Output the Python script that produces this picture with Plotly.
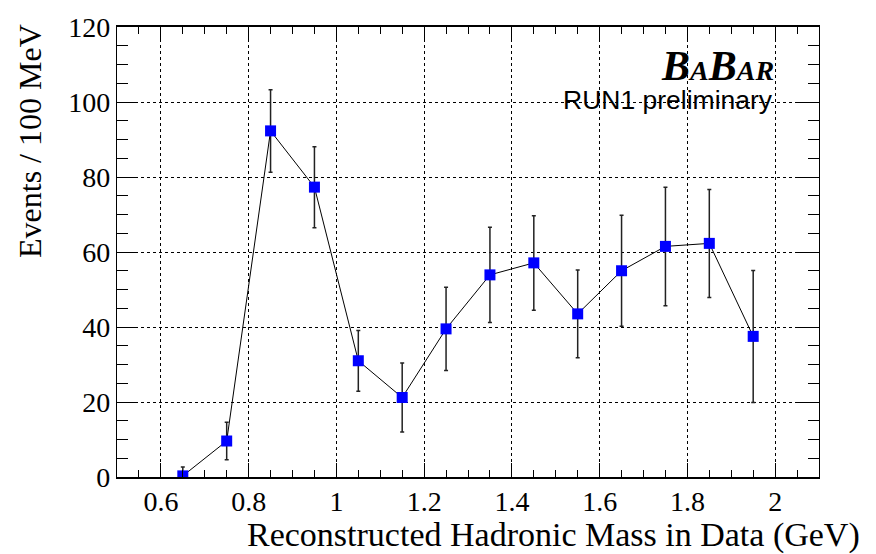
import plotly.graph_objects as go

# Reconstructed hadronic mass spectrum, 100 MeV bins
mass_gev = [0.65, 0.75, 0.85, 0.95, 1.05, 1.15, 1.25, 1.35, 1.45, 1.55, 1.65, 1.75, 1.85, 1.95]
events = [0.3, 9.6, 92.3, 77.3, 31.0, 21.2, 39.5, 53.9, 57.1, 43.5, 55.0, 61.5, 62.3, 37.5]
errors = [2.4, 5.0, 11.0, 10.8, 8.1, 9.2, 11.1, 12.7, 12.6, 11.7, 14.8, 15.8, 14.4, 17.6]

x_ticks = [0.6, 0.8, 1.0, 1.2, 1.4, 1.6, 1.8, 2.0]
x_tick_text = ["0.6", "0.8", "1", "1.2", "1.4", "1.6", "1.8", "2"]
y_ticks = [0, 20, 40, 60, 80, 100, 120]

W, H = 876, 554
L, R, T, B = 117, 819, 23, 477


def px(xp):
    return (xp - L) / (R - L)


def py(yp):
    return (B - yp) / (B - T)


SERIF = "Liberation Serif, Times New Roman, serif"
SANS = "Liberation Sans, Arial, sans-serif"

fig = go.Figure()
fig.add_trace(go.Scatter(
    x=mass_gev, y=events,
    mode="lines+markers",
    line=dict(color="black", width=1),
    marker=dict(symbol="square", size=11, color="#0000ff", line=dict(width=0)),
    error_y=dict(type="data", array=errors, visible=True,
                 color="#222222", thickness=1.5, width=2),
    showlegend=False,
    cliponaxis=True,
))

axis_common = dict(
    showline=True, linecolor="black", mirror="allticks",
    ticks="inside", tickcolor="black",
    showgrid=True, gridcolor="black", griddash="dot", gridwidth=1,
    zeroline=False,
    tickfont=dict(family=SERIF, size=28, color="black"),
)

fig.update_xaxes(
    range=[0.5, 2.1], tickvals=x_ticks, ticktext=x_tick_text,
    ticklen=14, tickwidth=1, linewidth=1.5, ticklabelstandoff=-1,
    minor=dict(dtick=0.05, tick0=0.5, ticks="inside", ticklen=7,
               tickcolor="black", tickwidth=1, showgrid=False),
    **axis_common,
)
fig.update_yaxes(
    range=[0, 120], tickvals=y_ticks,
    ticklen=21, tickwidth=1, linewidth=1.2,
    minor=dict(dtick=5, tick0=0, ticks="inside", ticklen=11,
               tickcolor="black", tickwidth=1, showgrid=False),
    **axis_common,
)

annotations = [
    dict(text="Reconstructed Hadronic Mass in Data (GeV)",
         x=px(862), y=py(536), xanchor="right", yanchor="middle",
         font=dict(family=SERIF, size=34, color="black")),
    dict(text="Events / 100 MeV", textangle=-90,
         x=px(30), y=py(138), xanchor="center", yanchor="middle",
         font=dict(family=SERIF, size=32, color="black")),
    dict(text="<b><i>B<span style='font-size:28px'>A</span>B"
              "<span style='font-size:28px'>AR</span></i></b>",
         x=px(776), y=py(62), xanchor="right", yanchor="middle",
         font=dict(family=SERIF, size=42, color="black")),
    dict(text="RUN1 preliminary",
         x=px(775), y=py(97), xanchor="right", yanchor="middle",
         font=dict(family=SANS, size=26.5, color="black")),
]
for a in annotations:
    a.update(xref="paper", yref="paper", showarrow=False)

fig.update_layout(
    width=W, height=H,
    margin=dict(l=L, r=W - R, t=T, b=H - B),
    paper_bgcolor="white", plot_bgcolor="white",
    annotations=annotations,
)

fig.write_html("out.html")
